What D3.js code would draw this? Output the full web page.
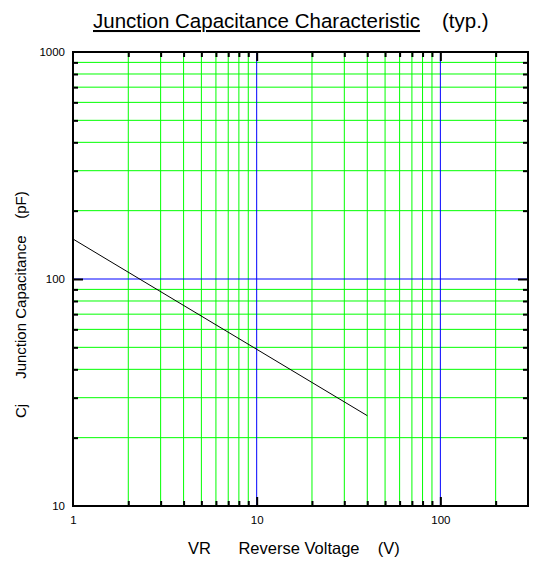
<!DOCTYPE html>
<html>
<head>
<meta charset="utf-8">
<script src="https://cdn.jsdelivr.net/npm/d3@7"></script>
<style>
  body { margin: 0; background: #fff; }
  text { font-family: "Liberation Sans", Arial, sans-serif; fill: #000; }
</style>
</head>
<body>
<div id="chart"></div>
<script>
// Curve data (VR in V, Cj in pF)
const voltage = [1, 40];
const capacitance = [150, 25];

// Grid / tick positions
const xMinor = [2, 3, 4, 5, 6, 7, 8, 9, 20, 30, 40, 50, 60, 70, 80, 90, 200];
const xMajor = [10, 100];
const xTickLabels = [1, 10, 100];
const yMinor = [20, 30, 40, 50, 60, 70, 80, 90, 200, 300, 400, 500, 600, 700, 800, 900];
const yMajor = [100];
const yTickLabels = [10, 100, 1000];

const width = 542;
const height = 564;
const plotLeft = 73, plotRight = 528, plotTop = 52, plotBottom = 506;

const xScale = d3.scaleLog().domain([1, 300]).range([plotLeft, plotRight]);
const yScale = d3.scaleLog().domain([10, 1000]).range([plotBottom, plotTop]);

const svg = d3.select("#chart")
    .append("svg")
    .attr("width", width)
    .attr("height", height);

// Grid lines
const grid = svg.append("g").attr("class", "grid");

function vLines(values, color) {
    grid.selectAll(null)
        .data(values)
        .enter()
        .append("line")
        .attr("x1", d => xScale(d)).attr("x2", d => xScale(d))
        .attr("y1", plotTop).attr("y2", plotBottom)
        .attr("stroke", color).attr("stroke-width", 1);
}

function hLines(values, color) {
    grid.selectAll(null)
        .data(values)
        .enter()
        .append("line")
        .attr("x1", plotLeft).attr("x2", plotRight)
        .attr("y1", d => yScale(d)).attr("y2", d => yScale(d))
        .attr("stroke", color).attr("stroke-width", 1);
}

vLines(xMinor, "#00ff00");
hLines(yMinor, "#00ff00");
vLines(xMajor, "#0000ff");
hLines(yMajor, "#0000ff");

// Inward ticks on all four sides
function tickAxis(axisFn, scale, values, size, transform) {
    const g = svg.append("g")
        .attr("transform", transform)
        .call(axisFn(scale).tickValues(values).tickSize(size).tickFormat(""));
    g.select(".domain").remove();
    g.selectAll(".tick line").attr("stroke", "#000").attr("stroke-width", 2);
}

tickAxis(d3.axisBottom, xScale, xMinor, -5, `translate(0,${plotBottom})`);
tickAxis(d3.axisBottom, xScale, xMajor, -9, `translate(0,${plotBottom})`);
tickAxis(d3.axisTop, xScale, xMinor, -5, `translate(0,${plotTop})`);
tickAxis(d3.axisTop, xScale, xMajor, -9, `translate(0,${plotTop})`);
tickAxis(d3.axisLeft, yScale, yMinor, -5, `translate(${plotLeft},0)`);
tickAxis(d3.axisLeft, yScale, yMajor, -10, `translate(${plotLeft},0)`);
tickAxis(d3.axisRight, yScale, yMinor, -5, `translate(${plotRight},0)`);
tickAxis(d3.axisRight, yScale, yMajor, -10, `translate(${plotRight},0)`);

// Frame
svg.append("rect")
    .attr("x", plotLeft).attr("y", plotTop)
    .attr("width", plotRight - plotLeft).attr("height", plotBottom - plotTop)
    .attr("fill", "none")
    .attr("stroke", "#000")
    .attr("stroke-width", 2);

// Curve
const line = d3.line()
    .x(d => xScale(d[0]))
    .y(d => yScale(d[1]));

svg.append("path")
    .datum(d3.zip(voltage, capacitance))
    .attr("d", line)
    .attr("fill", "none")
    .attr("stroke", "#000")
    .attr("stroke-width", 1);

// Tick labels
const xLabels = svg.append("g")
    .attr("transform", `translate(0,${plotBottom})`)
    .call(d3.axisBottom(xScale).tickValues(xTickLabels).tickSize(0).tickPadding(10).tickFormat(d3.format("d")));
xLabels.select(".domain").remove();
xLabels.selectAll("text").style("font-size", "11.5px").style("font-family", "Liberation Sans, Arial, sans-serif");

const yLabels = svg.append("g")
    .attr("transform", `translate(${plotLeft},0)`)
    .call(d3.axisLeft(yScale).tickValues(yTickLabels).tickSize(0).tickPadding(8).tickFormat(d3.format("d")));
yLabels.select(".domain").remove();
yLabels.selectAll("text").style("font-size", "11.5px").style("font-family", "Liberation Sans, Arial, sans-serif");

// Title
const title = svg.append("text")
    .attr("x", 93)
    .attr("y", 28)
    .style("font-size", "20.5px");
title.append("tspan")
    .style("text-decoration", "underline")
    .text("Junction Capacitance Characteristic");
title.append("tspan")
    .attr("x", 442)
    .text("(typ.)");

// Axis titles
svg.append("text")
    .attr("x", 188)
    .attr("y", 554)
    .style("font-size", "16.5px")
    .style("white-space", "pre")
    .text("VR      Reverse Voltage    (V)");

svg.append("text")
    .attr("transform", "translate(26,418) rotate(-90)")
    .style("font-size", "15px")
    .style("white-space", "pre")
    .text("Cj      Junction Capacitance    (pF)");
</script>
</body>
</html>
